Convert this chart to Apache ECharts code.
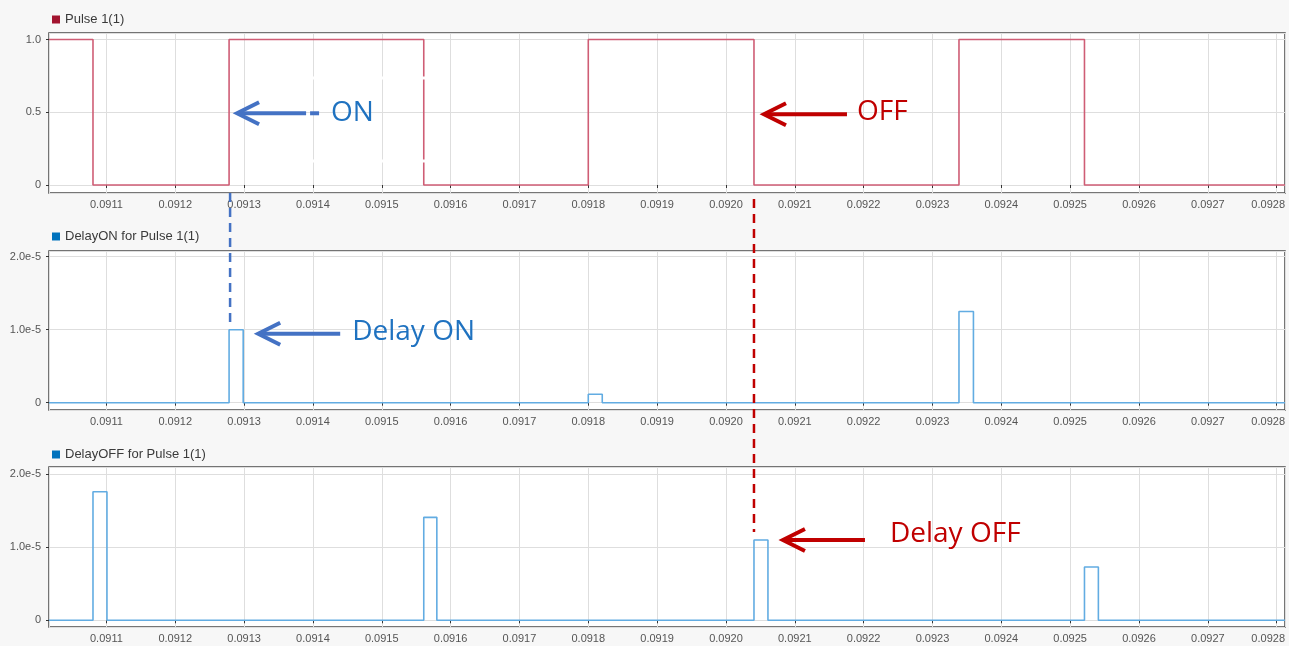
<!DOCTYPE html>
<html>
<head>
<meta charset="utf-8">
<script src="https://cdn.jsdelivr.net/npm/echarts@6/dist/echarts.min.js"></script>
<style>
  html, body { margin: 0; padding: 0; background: #f7f7f7; overflow: hidden; }
  #chart { width: 1289px; height: 646px; }
</style>
</head>
<body>
<div id="chart"></div>
<script>
// Sample window (s)
const windowStart = 0.0910166;
const windowEnd = 0.0928121;

// Pulse 1(1): switching instants and the level held from each instant
const pulseTimes  = [windowStart, 0.0910805, 0.0912782, 0.0915610, 0.0918000, 0.0920407, 0.0923385, 0.0925208, windowEnd];
const pulseLevels = [1, 0, 1, 0, 1, 0, 1, 0, 0];

// DelayON for Pulse 1(1)
const delayOnTimes  = [windowStart, 0.0912782, 0.0912987, 0.0918000, 0.0918203, 0.0923385, 0.0923595, windowEnd];
const delayOnValues = [0, 1.0e-5, 0, 1.15e-6, 0, 1.25e-5, 0, 0];

// DelayOFF for Pulse 1(1)
const delayOffTimes  = [windowStart, 0.0910805, 0.0911008, 0.0915610, 0.0915800, 0.0920407, 0.0920610, 0.0925208, 0.0925410, windowEnd];
const delayOffValues = [0, 1.76e-5, 0, 1.41e-5, 0, 1.1e-5, 0, 7.3e-6, 0, 0];

const seriesNames = ['Pulse 1(1)', 'DelayON for Pulse 1(1)', 'DelayOFF for Pulse 1(1)'];

// Annotation labels
const annotationTexts = ['ON', 'OFF', 'Delay ON', 'Delay OFF'];

// Last tick label is nudged left so it stays inside the frame
const lastTickLabel = '0.0928';

const zip = (xs, ys) => xs.map((x, i) => [x, ys[i]]);

const AXIS_FONT = '"Liberation Sans", Arial, sans-serif';
const NOTE_FONT = '"Open Sans", sans-serif';

const panels = [
  { name: seriesNames[0], data: zip(pulseTimes, pulseLevels), top: 33, height: 160,
    yMin: -0.055, yMax: 1.045, yStep: 0.5, legendTop: 8,
    line: '#cf5d75', mark: '#a2142f',
    fmt: v => (v === 0 ? '0' : v.toFixed(1)) },
  { name: seriesNames[1], data: zip(delayOnTimes, delayOnValues), top: 251, height: 159,
    yMin: -1.0e-6, yMax: 2.078e-5, yStep: 1e-5, legendTop: 225,
    line: '#62ace2', mark: '#0072bd',
    fmt: v => (Math.abs(v) < 1e-12 ? '0' : v.toExponential(1)) },
  { name: seriesNames[2], data: zip(delayOffTimes, delayOffValues), top: 467, height: 160,
    yMin: -0.92e-6, yMax: 2.1e-5, yStep: 1e-5, legendTop: 443,
    line: '#62ace2', mark: '#0072bd',
    fmt: v => (Math.abs(v) < 1e-12 ? '0' : v.toExponential(1)) }
];

const chart = echarts.init(document.getElementById('chart'), null, { renderer: 'canvas' });

const option = {
  animation: false,
  backgroundColor: '#f7f7f7',
  legend: panels.map(p => ({
    data: [p.name], left: 47, top: p.legendTop, icon: 'rect',
    itemWidth: 8, itemHeight: 8, itemGap: 10, selectedMode: false,
    textStyle: { fontFamily: AXIS_FONT, fontSize: 13, color: '#3a3a3a' }
  })),
  grid: panels.map(p => ({
    left: 49, width: 1236, top: p.top, height: p.height,
    outerBoundsMode: 'none', containLabel: false,
    show: true, backgroundColor: '#ffffff', borderColor: '#4a4a4a', borderWidth: 1.5
  })),
  xAxis: panels.map((p, i) => ({
    type: 'value', gridIndex: i, min: windowStart, max: windowEnd,
    minInterval: 0.0001, maxInterval: 0.0001, splitNumber: 18,
    axisLine: { show: false },
    axisTick: { show: true, length: 3, lineStyle: { color: '#333' } },
    axisLabel: { showMinLabel: false, showMaxLabel: false, margin: 6,
      fontFamily: AXIS_FONT, fontSize: 11, color: '#555',
      formatter: v => {
        const s = v.toFixed(4);
        return s === lastTickLabel ? '{last|' + s + '}' : s;
      },
      rich: { last: { fontFamily: AXIS_FONT, fontSize: 11, color: '#555', padding: [0, 17, 0, 0] } } },
    splitLine: { show: true, lineStyle: { color: '#dedede', width: 1 } }
  })),
  yAxis: panels.map((p, i) => ({
    type: 'value', gridIndex: i, min: p.yMin, max: p.yMax,
    minInterval: p.yStep, maxInterval: p.yStep, splitNumber: 2,
    axisLine: { show: false },
    axisTick: { show: true, length: 3, lineStyle: { color: '#333' } },
    axisLabel: { showMinLabel: false, showMaxLabel: false, margin: 8,
      fontFamily: AXIS_FONT, fontSize: 11, color: '#555', formatter: p.fmt },
    splitLine: { show: true, lineStyle: { color: '#dedede', width: 1 } }
  })),
  series: panels.map((p, i) => ({
    name: p.name, type: 'line', step: 'end', xAxisIndex: i, yAxisIndex: i,
    showSymbol: false, symbol: 'none', data: p.data,
    itemStyle: { color: p.mark },
    lineStyle: { color: p.line, width: 1.6 }
  }))
};

chart.setOption(option);

// ---- annotations anchored to the signal edges ----
const px = (i, x, y) => chart.convertToPixel({ xAxisIndex: i, yAxisIndex: i }, [x, y]);

function arrow(tipX, tipY, tailX, color) {
  return {
    type: 'group', silent: true, z: 100,
    children: [
      { type: 'polyline', shape: { points: [[tipX + 2, tipY], [tailX, tipY]] },
        style: { stroke: color, lineWidth: 4, fill: null } },
      { type: 'polyline', shape: { points: [[tipX + 22, tipY - 11], [tipX, tipY], [tipX + 22, tipY + 11]] },
        style: { stroke: color, lineWidth: 4, fill: null, lineJoin: 'miter' } }
    ]
  };
}
function note(x, y, text, color, size) {
  return { type: 'text', x, y, z: 100, silent: true,
    style: { text, fill: color, font: size + 'px ' + NOTE_FONT, verticalAlign: 'middle', align: 'left' } };
}
function dashed(x, y1, y2, color) {
  return { type: 'line', z: 100, silent: true, shape: { x1: x, y1, x2: x, y2 },
    style: { stroke: color, lineWidth: 2.5, lineDash: [9, 6] } };
}

const BLUE = '#4472c4', BLUE_TEXT = '#1f72c0', RED = '#c00000';

const onEdge = pulseTimes[2];
const offEdge = pulseTimes[5];
const onPulseEnd = delayOnTimes[2];
const offPulseEnd = delayOffTimes[6];

const onMid = px(0, onEdge, 0.5);
const offMid = px(0, offEdge, 0.5);
const onTop = px(1, onPulseEnd, delayOnValues[1]);
const onRise = px(1, onEdge, delayOnValues[1]);
const offTop = px(2, offPulseEnd, delayOffValues[5]);
const offFall = px(2, offEdge, delayOffValues[5]);
const bottom0 = panels[0].top + panels[0].height;

const graphics = [
  // white seams left over from a text frame in the top panel
  { type: 'line', z: 50, silent: true, shape: { x1: 300, y1: 78, x2: 432, y2: 78 }, style: { stroke: '#fff', lineWidth: 3 } },
  { type: 'line', z: 50, silent: true, shape: { x1: 300, y1: 161, x2: 432, y2: 161 }, style: { stroke: '#fff', lineWidth: 3 } },

  dashed(onMid[0] + 1, bottom0, onRise[1] - 4, BLUE),
  dashed(offMid[0], bottom0 + 6, offFall[1] - 8, RED),

  arrow(onMid[0] + 8, onMid[1] + 1, onMid[0] + 77, BLUE),
  { type: 'line', z: 100, silent: true,
    shape: { x1: onMid[0] + 81, y1: onMid[1] + 1, x2: onMid[0] + 90, y2: onMid[1] + 1 },
    style: { stroke: BLUE, lineWidth: 4 } },
  note(onMid[0] + 102, onMid[1] + 1, annotationTexts[0], BLUE_TEXT, 28),

  arrow(offMid[0] + 10, offMid[1] + 2, offMid[0] + 93, RED),
  note(offMid[0] + 103, offMid[1] + 0, annotationTexts[1], RED, 28),

  arrow(onTop[0] + 15, onTop[1] + 4, onTop[0] + 97, BLUE),
  note(onTop[0] + 109, onTop[1] + 2, annotationTexts[2], BLUE_TEXT, 28),

  arrow(offTop[0] + 15, offTop[1], offTop[0] + 97, RED),
  note(offTop[0] + 122, offTop[1] - 6, annotationTexts[3], RED, 28)
];

chart.setOption({ graphic: graphics });
</script>
</body>
</html>
